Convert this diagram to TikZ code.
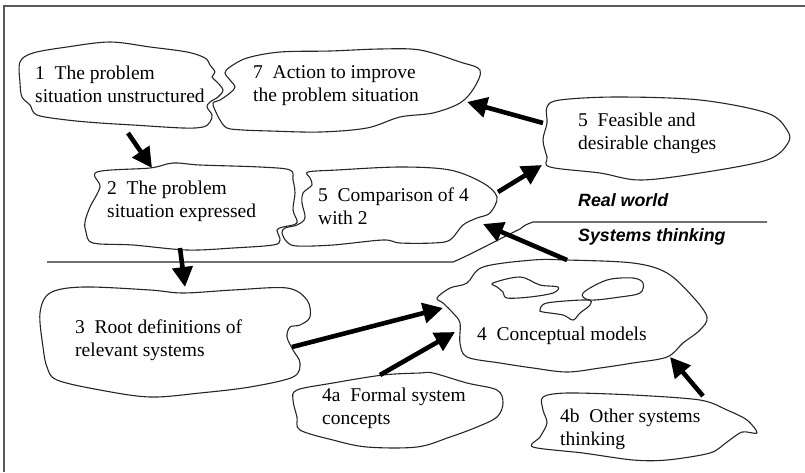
\documentclass[tikz,border=0pt]{standalone}
\usepackage{fontspec}
\setmainfont{Liberation Serif}
\newfontfamily\sidefont{Liberation Sans}
\usetikzlibrary{arrows.meta}
\tikzset{
  blob/.style={line width=1.1pt,black!85,line join=round},
  tx/.style={anchor=west,align=left,inner sep=0pt,font=\fontsize{19.5}{23}\selectfont},
  side/.style={anchor=west,inner sep=0pt,font=\sidefont\bfseries\itshape\fontsize{17.8}{20}\selectfont},
  fat/.style={line width=4.6pt,-{Triangle[length=20pt,width=20pt]}}
}
\begin{document}
\begin{tikzpicture}[x=1pt,y=-1pt]
\useasboundingbox (0,0) rectangle (805,472);
\draw[line width=2.5pt,black!65] (4,472) -- (4,6) -- (805,6);
\draw[blob] plot[smooth cycle,tension=0.55] coordinates {(20,62) (33,53) (67,47) (110,42) (150,47) (187,52) (205,58) (210,65) (215,72) (212,77) (217,82) (223,90) (218,97) (210,102) (207,107) (212,115) (210,122) (203,127) (183,128) (133,125) (100,123) (67,120) (37,115) (30,105) (22,97) (20,83)};
\draw[blob] plot[smooth cycle,tension=0.55] coordinates {(247,58) (280,52) (330,51) (380,49) (420,50) (460,62) (480,70) (474,88) (460,103) (433,113) (400,117) (367,128) (320,132) (270,131) (243,130) (227,128) (220,120) (215,110) (213,103) (220,100) (230,93) (235,87) (230,80) (225,73) (230,67)};
\draw[blob] plot[smooth cycle,tension=0.55] coordinates {(97,172) (150,168) (173,163) (200,165) (260,167) (290,170) (293,180) (295,193) (293,210) (297,223) (283,227) (277,230) (280,240) (273,245) (233,248) (187,250) (133,245) (93,243) (86,232) (85,222) (90,207) (100,187)};
\draw[blob] plot[smooth cycle,tension=0.55] coordinates {(308,172) (337,170) (400,167) (450,170) (483,183) (497,197) (490,213) (477,218) (463,225) (450,240) (433,243) (400,243) (383,240) (333,245) (297,246) (287,242) (282,233) (285,228) (297,225) (305,218) (302,203) (303,193) (312,185) (310,178)};
\draw[blob] plot[smooth cycle,tension=0.55] coordinates {(547,107) (560,100) (617,97) (700,100) (767,113) (787,130) (788,143) (767,160) (700,173) (640,180) (600,173) (550,167) (547,157) (543,140) (547,123)};
\draw[blob] plot[smooth cycle,tension=0.55] coordinates {(50,293) (83,287) (150,290) (183,293) (233,290) (287,288) (307,300) (310,317) (300,325) (290,327) (287,337) (293,350) (300,363) (293,377) (250,387) (200,393) (150,397) (100,390) (57,380) (47,367) (43,347) (40,313)};
\draw[blob] plot[smooth cycle,tension=0.55] coordinates {(437,298) (450,288) (467,283) (483,267) (533,260) (567,260) (633,263) (667,273) (693,297) (707,317) (700,330) (683,343) (667,357) (633,363) (600,368) (567,372) (533,368) (500,363) (467,357) (460,343) (460,323) (453,313) (443,303)};
\draw[blob] plot[smooth cycle,tension=0.55] coordinates {(493,283) (520,277) (540,285) (558,287) (553,293) (530,297) (507,298) (503,292) (497,287)};
\draw[blob] plot[smooth cycle,tension=0.55] coordinates {(583,293) (607,280) (633,278) (643,283) (640,293) (620,297) (590,300)};
\draw[blob] plot[smooth cycle,tension=0.55] coordinates {(540,310) (547,303) (587,300) (590,305) (580,313) (573,320) (563,315) (543,312)};
\draw[blob] plot[smooth cycle,tension=0.55] coordinates {(297,390) (333,383) (383,375) (420,373) (433,373) (467,383) (497,390) (503,403) (497,417) (477,427) (450,437) (417,447) (367,447) (333,440) (300,430) (297,417) (293,400)};
\draw[blob] plot[smooth cycle,tension=0.5] coordinates {(543,397) (567,393) (633,395) (700,400) (727,410) (747,420) (757,433) (742,432) (727,442) (710,453) (667,460) (633,460) (583,453) (533,447) (540,437) (547,423) (543,410)};
\draw[blob] (47,262) -- (453,262) .. controls (470,255) and (505,236) .. (520,229) .. controls (525,225) .. (533,222) -- (767,222);
\node[tx] (s1) at (35,84) {1\ \ The problem\\situation unstructured};
\node[tx] (s7) at (253,86) {7\ \ Action to improve\\the problem situation};
\node[tx] (s2) at (107,201) {2\ \ The problem\\situation expressed};
\node[tx] (s5c) at (318,206) {5\ \ Comparison of 4\\with 2};
\node[tx] (s5f) at (578,133) {5\ \ Feasible and\\desirable changes};
\node[side] (rw) at (578,200) {Real world};
\node[side] (st) at (578,237) {Systems thinking};
\node[tx] (s3) at (75,340) {3\ \ Root definitions of\\relevant systems};
\node[tx] (s4) at (477,336) {4\ \ Conceptual models};
\node[tx] (s4a) at (322,408) {4a\ \ Formal system\\concepts};
\node[tx] (s4b) at (560,429) {4b\ \ Other systems\\thinking};
\coordinate (e1) at (128,133);
\coordinate (f2) at (152,168);
\coordinate (e2) at (180,248);
\coordinate (f3) at (185,287);
\coordinate (e3) at (292,347);
\coordinate (f4) at (443,308);
\coordinate (e4a) at (380,375);
\coordinate (g4) at (455,332);
\coordinate (e4b) at (703,396);
\coordinate (h4) at (670,357);
\coordinate (e4) at (567,260);
\coordinate (f5c) at (483,224);
\coordinate (e5c) at (498,192);
\coordinate (f5f) at (542,165);
\coordinate (e5f) at (543,123);
\coordinate (f7) at (467,102);
\draw[fat] (e1) -- (f2);
\draw[fat] (e2) -- (f3);
\draw[fat] (e3) -- (f4);
\draw[fat] (e4a) -- (g4);
\draw[fat] (e4b) -- (h4);
\draw[fat] (e4) -- (f5c);
\draw[fat] (e5c) -- (f5f);
\draw[fat] (e5f) -- (f7);
\end{tikzpicture}
\end{document}
